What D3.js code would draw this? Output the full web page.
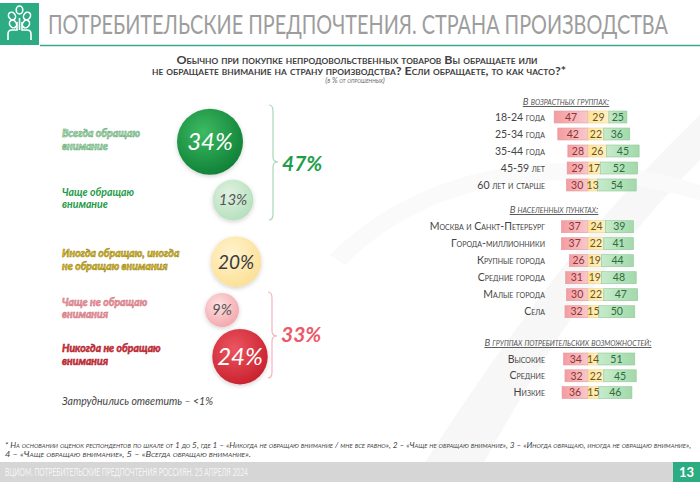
<!DOCTYPE html>
<html><head><meta charset="utf-8">
<script src="https://cdn.jsdelivr.net/npm/d3@7"></script>
<style>
html,body{margin:0;padding:0;background:#fff;}
svg{display:block;}
text{font-family:Lato,"Open Sans",sans-serif;}
</style></head>
<body>
<svg id="c" width="700" height="484"></svg>
<script>
// ---- DATA ----
const mainLabels = [
  ["Всегда обращаю", "внимание"],
  ["Чаще обращаю", "внимание"],
  ["Иногда обращаю, иногда", "не обращаю внимания"],
  ["Чаще не обращаю", "внимания"],
  ["Никогда не обращаю", "внимания"]
];
const mainValues = [34, 13, 20, 9, 24];
const groupTotals = [47, 33];
const noAnswer = "Затруднились ответить – <1%";

const ageGroups = ["18-24 года", "25-34 года", "35-44 года", "45-59 лет", "60 лет и старше"];
const ageNo   = [47, 42, 28, 29, 30];
const ageSome = [29, 22, 26, 17, 13];
const ageYes  = [25, 36, 45, 52, 54];

const settleGroups = ["Москва и Санкт-Петербург", "Города-миллионники", "Крупные города", "Средние города", "Малые города", "Села"];
const settleNo   = [37, 37, 26, 31, 30, 32];
const settleSome = [24, 22, 19, 19, 22, 15];
const settleYes  = [39, 41, 44, 48, 47, 50];

const consGroups = ["Высокие", "Средние", "Низкие"];
const consNo   = [34, 32, 36];
const consSome = [14, 22, 15];
const consYes  = [51, 45, 46];

// ---- DRAW ----
const svg = d3.select("#c");
const defs = svg.append("defs");

// faint background swooshes
svg.append("path")
  .attr("d", "M420,470 C510,330 600,210 700,115 L700,160 C615,245 545,350 480,470 Z")
  .attr("fill", "#f7f7f7");
svg.append("path")
  .attr("d", "M330,255 C420,165 560,140 700,185 L700,200 C560,160 430,180 345,265 Z")
  .attr("fill", "#fafafa");

// Header logo
svg.append("rect").attr("x", 0).attr("y", 3).attr("width", 39).attr("height", 42).attr("fill", "#2dab82");
const logo = svg.append("g").attr("stroke", "#fff").attr("fill", "none").attr("stroke-width", 1.6);
logo.append("path").attr("d", "M8,40 L8,34 Q8,30 12,30 L17,30 L17,22 M31,40 L31,34 Q31,30 27,30 L22,30 L22,22");
logo.append("path").attr("d", "M19.5,30 L19.5,18");
[[19.5,10],[12,16],[27,16],[13,24],[26,24]].forEach(p=>{
  logo.append("ellipse").attr("cx",p[0]).attr("cy",p[1]).attr("rx",3.3).attr("ry",4).attr("transform",`rotate(${p[0]<19?-35:(p[0]>20?35:0)},${p[0]},${p[1]})`);
});

// title: fit to 620px width by horizontal scaling
const titleG = svg.append("g");
const title = titleG.append("text").attr("x", 0).attr("y", 0)
  .attr("font-family", "'Liberation Sans Narrow','Open Sans',sans-serif")
  .attr("font-size", 27).attr("fill", "#9d9d9d")
  .text("ПОТРЕБИТЕЛЬСКИЕ ПРЕДПОЧТЕНИЯ. СТРАНА ПРОИЗВОДСТВА");
const tw = title.node().getComputedTextLength();
titleG.attr("transform", `translate(48,34) scale(${620/tw},1)`);

svg.append("line").attr("x1", 40).attr("x2", 700).attr("y1", 45.5).attr("y2", 45.5)
  .attr("stroke", "#3aa88a").attr("stroke-width", 1.5);

// Subtitle
const sub = svg.append("g").attr("fill", "#404040").attr("font-weight", "bold").attr("font-size", 10.5)
  .style("font-variant", "small-caps");
sub.append("text").attr("x", 357).attr("y", 63.5).attr("text-anchor", "middle")
  .attr("textLength", 361).attr("lengthAdjust", "spacingAndGlyphs")
  .text("Обычно при покупке непродовольственных товаров Вы обращаете или");
sub.append("text").attr("x", 359).attr("y", 74.5).attr("text-anchor", "middle")
  .attr("textLength", 414).attr("lengthAdjust", "spacingAndGlyphs")
  .text("не обращаете внимание на страну производства? Если обращаете, то как часто?*");
svg.append("text").attr("x", 355).attr("y", 82.5).attr("text-anchor", "middle")
  .attr("font-size", 7.5).attr("font-style", "italic").attr("fill", "#666")
  .style("font-variant", "small-caps").text("(в % от опрошенных)");

// ---- Left: bubbles ----
const rScale = d3.scaleSqrt().domain([0, 34]).range([0, 33]);
const bubbleY = [141.7, 200, 261.7, 310, 356.7];
const bubbleX = [210, 233, 236, 222, 240];
const bubbleStyles = [
  {c0:"#3dba62", c1:"#0e7f36", txt:"#fff", fs:24, lab:"#c4e2c8", labStroke:"#3f9a55"},
  {c0:"#dff2e2", c1:"#b5dfbc", txt:"#555", fs:15, lab:"#239a48", labStroke:null},
  {c0:"#fff3cf", c1:"#fcdf94", txt:"#3a3a3a", fs:19, lab:"#e3c21a", labStroke:"#8a7410"},
  {c0:"#fde0e2", c1:"#f3a6ab", txt:"#555", fs:15, lab:"#f19aa2", labStroke:"#c96a74"},
  {c0:"#ec5560", c1:"#c8202e", txt:"#fff", fs:24, lab:"#e0303e", labStroke:"#9a1822"}
];
bubbleStyles.forEach((s,i)=>{
  const g = defs.append("radialGradient").attr("id","bg"+i).attr("cx","40%").attr("cy","35%").attr("r","70%");
  g.append("stop").attr("offset","0%").attr("stop-color",s.c0);
  g.append("stop").attr("offset","100%").attr("stop-color",s.c1);
});
const filt = defs.append("filter").attr("id","sh").attr("x","-30%").attr("y","-30%").attr("width","160%").attr("height","160%");
filt.append("feDropShadow").attr("dx",0).attr("dy",1.5).attr("stdDeviation",2).attr("flood-color","#000").attr("flood-opacity",0.18);

const bub = svg.append("g").selectAll("g").data(mainValues).join("g");
bub.append("circle")
  .attr("cx",(d,i)=>bubbleX[i]).attr("cy",(d,i)=>bubbleY[i]).attr("r",d=>rScale(d))
  .attr("fill",(d,i)=>`url(#bg${i})`).attr("filter","url(#sh)");
bub.append("text")
  .attr("x",(d,i)=>bubbleX[i]).attr("y",(d,i)=>bubbleY[i])
  .attr("dy","0.36em").attr("text-anchor","middle")
  .attr("font-style","italic")
  .attr("font-size",(d,i)=>bubbleStyles[i].fs)
  .attr("fill",(d,i)=>bubbleStyles[i].txt)
  .text(d=>d+"%");

// two-line labels, one text element per line
const labG = svg.append("g").selectAll("g").data(mainLabels).join("g");
labG.selectAll("text").data((d,i)=>d.map((t,j)=>({t,j,i}))).join("text")
  .attr("x",62).attr("y",d=>bubbleY[d.i]-4.5 + d.j*12.3)
  .attr("font-family","'Liberation Sans',Arial,sans-serif")
  .attr("font-size",10.5).attr("font-style","italic").attr("font-weight","bold")
  .attr("fill",d=>bubbleStyles[d.i].lab)
  .attr("stroke",d=>bubbleStyles[d.i].labStroke||"none")
  .attr("stroke-width",0.45).attr("paint-order","fill")
  .text(d=>d.t);

svg.append("text").attr("x",62).attr("y",405).attr("font-size",10.5).attr("font-style","italic")
  .attr("fill","#444").text(noAnswer);

// Braces
function brace(x, y0, y1, ym){
  const w = 5;
  return `M${x-4},${y0} Q${x},${y0} ${x},${y0+6} L${x},${ym-5} Q${x},${ym} ${x+w},${ym} Q${x},${ym} ${x},${ym+5} L${x},${y1-6} Q${x},${y1} ${x-4},${y1}`;
}
svg.append("path").attr("d",brace(273,105,220,162)).attr("fill","none").attr("stroke","#a9d7b5").attr("stroke-width",1.2);
svg.append("path").attr("d",brace(272,292,378,336)).attr("fill","none").attr("stroke","#f2b4bb").attr("stroke-width",1.2);
svg.append("text").attr("x",282).attr("y",171).attr("font-size",21).attr("font-weight","bold").attr("font-style","italic")
  .attr("fill","#1f9e4a").text(groupTotals[0]+"%");
svg.append("text").attr("x",281).attr("y",342).attr("font-size",21).attr("font-weight","bold").attr("font-style","italic")
  .attr("fill","#ec5a68").text(groupTotals[1]+"%");

// ---- Right: stacked bars ----
const segGrad = [
  ["gr","#f39ca0","#f9c9cb","#e59aa0"],
  ["gy","#fde29c","#fff1c6","#eed48c"],
  ["gg","#c6ebcb","#a2d9aa","#92c99a"]
];
segGrad.forEach(g=>{
  const lg = defs.append("linearGradient").attr("id",g[0]).attr("x1","0").attr("x2","1").attr("y1","0").attr("y2","0");
  lg.append("stop").attr("offset","0%").attr("stop-color",g[1]);
  lg.append("stop").attr("offset","100%").attr("stop-color",g[2]);
});
const xW = d3.scaleLinear().domain([0,100]).range([0,72]);
const anchorX = 588;
const barH = 12;

function block(title, titleX, titleY, groups, no, some, yes, yRange){
  svg.append("text").attr("x",titleX).attr("y",titleY).attr("text-anchor","middle")
    .attr("font-size",9.5).attr("font-style","italic").attr("fill","#555")
    .attr("text-decoration","underline").style("font-variant","small-caps").text(title);
  const y = d3.scaleBand().domain(groups).range(yRange).paddingInner(0.28).paddingOuter(0.14);
  const rows = groups.map((g,i)=>({g, no:no[i], some:some[i], yes:yes[i]}));
  const row = svg.append("g").selectAll("g").data(rows).join("g")
    .attr("transform",d=>`translate(0,${y(d.g)+y.bandwidth()/2})`);
  row.append("text").attr("x",545).attr("dy","0.35em").attr("text-anchor","end")
    .attr("font-size",10.5).attr("fill","#444").style("font-variant","small-caps").text(d=>d.g);
  const segs = d=>[
    {x0:anchorX-xW(d.no), w:xW(d.no), v:d.no, k:0, tc:"#8c3338"},
    {x0:anchorX, w:xW(d.some), v:d.some, k:1, tc:"#6d5614"},
    {x0:anchorX+xW(d.some), w:xW(d.yes), v:d.yes, k:2, tc:"#2f6c3c"}
  ];
  row.selectAll("rect").data(segs).join("rect")
    .attr("x",s=>s.x0).attr("y",-barH/2).attr("width",s=>s.w).attr("height",barH)
    .attr("fill",s=>`url(#${segGrad[s.k][0]})`).attr("stroke",s=>segGrad[s.k][3]).attr("stroke-width",0.6);
  row.selectAll("text.v").data(segs).join("text").attr("class","v")
    .attr("x",s=>s.x0+s.w/2).attr("dy","0.36em").attr("text-anchor","middle")
    .attr("font-size",10.5).attr("fill",s=>s.tc).text(s=>s.v);
}
block("В возрастных группах:", 566, 105, ageGroups, ageNo, ageSome, ageYes, [108.5,193.5]);
block("В населенных пунктах:", 554, 213, settleGroups, settleNo, settleSome, settleYes, [218.2,320.2]);
block("В группах потребительских возможностей:", 568, 346, consGroups, consNo, consSome, consYes, [350.6,401]);

// Footnote
const fn = svg.append("g").attr("font-size",7).attr("font-style","italic").attr("fill","#444").style("font-variant","small-caps");
fn.append("text").attr("x",5).attr("y",448).attr("textLength",686).attr("lengthAdjust","spacingAndGlyphs")
  .text("* На основании оценок респондентов по шкале от 1 до 5, где 1 – «Никогда не обращаю внимание / мне все равно», 2 – «Чаще не обращаю внимание», 3 – «Иногда обращаю, иногда не обращаю внимание»,");
fn.append("text").attr("x",5).attr("y",456.5).attr("textLength",246).attr("lengthAdjust","spacingAndGlyphs")
  .text("4 – «Чаще обращаю внимание», 5 – «Всегда обращаю внимание».");

// Footer bar
svg.append("rect").attr("x",0).attr("y",462).attr("width",700).attr("height",20).attr("fill","#d6d6d6");
svg.append("text").attr("x",5).attr("y",476).attr("font-size",11.5)
  .attr("font-family","'Liberation Sans Narrow','Open Sans',sans-serif").attr("fill","#f4f4f4")
  .attr("textLength",243).attr("lengthAdjust","spacingAndGlyphs")
  .text("ВЦИОМ. ПОТРЕБИТЕЛЬСКИЕ ПРЕДПОЧТЕНИЯ РОССИЯН. 25 АПРЕЛЯ 2024");
svg.append("rect").attr("x",673).attr("y",462).attr("width",27).attr("height",20).attr("fill","#2dab82");
svg.append("text").attr("x",686.5).attr("y",477).attr("text-anchor","middle").attr("font-size",13).attr("font-weight","bold")
  .attr("font-family","'Liberation Sans Narrow','Open Sans',sans-serif").attr("fill","#fff").text("13");
</script>
</body></html>
